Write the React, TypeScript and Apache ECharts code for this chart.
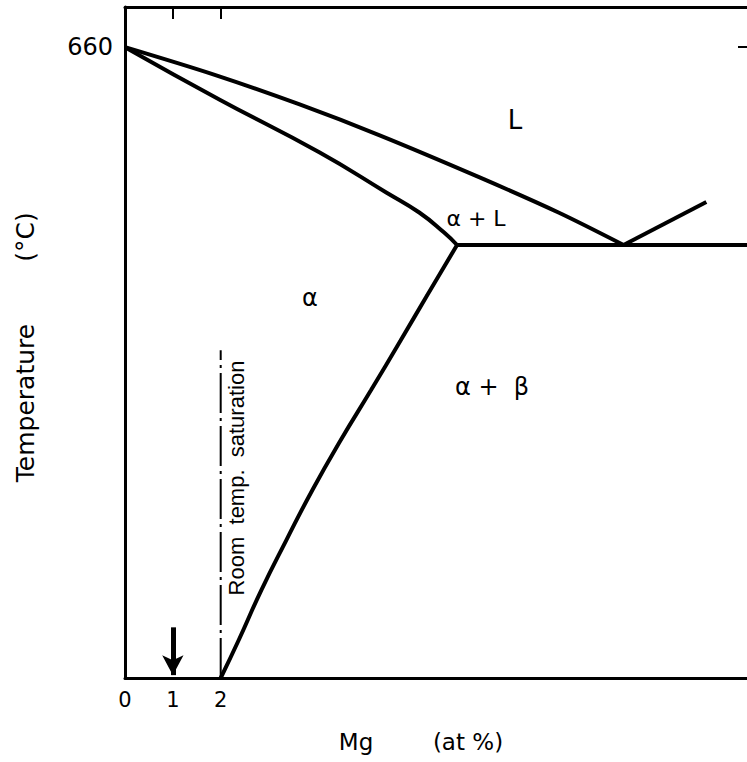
import React, { useEffect, useRef } from "react";
import * as echarts from "echarts";

// Composition (at % Mg) vs temperature (°C)
const liquidus: number[][] = [[0, 660], [1.875, 631], [3.65, 600], [5.31, 568], [7.4, 524], [9.06, 487], [10.42, 453]];
const solidus: number[][] = [[0, 660], [1.98, 605], [4.06, 550], [5.46, 508], [6.15, 487], [6.67, 466], [6.94, 453]];
const solvus: number[][] = [[2.0, 0], [2.38, 40], [2.85, 92], [3.37, 144], [3.92, 197], [4.51, 249], [5.14, 301], [5.76, 353], [6.31, 400], [6.94, 453]];
const eutectic: number[][] = [[6.94, 453], [13, 453]];
const liquidusMg: number[][] = [[10.42, 453], [12.15, 498]];
const saturation: number[][] = [[2, 0], [2, 343]];
const arrowFrom: number[] = [1, 53];
const arrowTo: number[] = [1, 3];
const xTicks = [0, 1, 2];
const topTicks = [1, 2];
const yTicks = [660];

const X_MAX = 13;
const T_MAX = 702;

export default function App() {
  const ref = useRef<HTMLDivElement>(null);
  useEffect(() => {
    if (!ref.current) return;
    const chart = echarts.init(ref.current, undefined, { renderer: "svg" });
    const black = "#000";
    const font = "DejaVu Sans";
    const curve = (data: number[][], smooth: number | boolean = 0.3) => ({
      type: "line",
      data,
      smooth,
      symbol: "none",
      lineStyle: { color: black, width: 4 },
      silent: true,
    });
    const frameLine = { show: true, onZero: false, lineStyle: { color: black, width: 3 } };
    chart.setOption({
      animation: false,
      backgroundColor: "#fff",
      grid: { left: 125, right: -2, top: 7, bottom: 84 },
      xAxis: [
        {
          type: "value",
          min: 0,
          max: X_MAX,
          interval: 1,
          position: "bottom",
          splitLine: { show: false },
          axisLine: frameLine,
          axisTick: { show: false },
          axisLabel: {
            customValues: xTicks,
            color: black,
            fontFamily: font,
            fontSize: 21,
            margin: 11,
          },
        },
        {
          type: "value",
          min: 0,
          max: X_MAX,
          interval: 1,
          position: "top",
          splitLine: { show: false },
          axisLine: frameLine,
          axisTick: { show: true, customValues: topTicks, inside: true, length: 12, lineStyle: { color: black, width: 2 } },
          axisLabel: { show: false },
        },
      ],
      yAxis: [
        {
          type: "value",
          min: 0,
          max: T_MAX,
          position: "left",
          splitLine: { show: false },
          axisLine: frameLine,
          axisTick: { show: false },
          axisLabel: {
            customValues: yTicks,
            color: black,
            fontFamily: font,
            fontSize: 24,
            margin: 12,
          },
        },
        {
          type: "value",
          min: 0,
          max: T_MAX,
          position: "right",
          splitLine: { show: false },
          axisLine: { show: false, onZero: false },
          axisTick: { show: true, customValues: yTicks, inside: true, length: 9, lineStyle: { color: black, width: 2 } },
          axisLabel: { show: false },
        },
      ],
      series: [
        curve(liquidus, 0.3),
        curve(solidus, 0.5),
        curve(solvus, 0.5),
        curve(eutectic, false),
        curve(liquidusMg, false),
        {
          type: "line",
          data: saturation,
          symbol: "none",
          silent: true,
          lineStyle: { color: black, width: 2, type: [40, 5, 3, 5] },
          markLine: {
            silent: true,
            symbol: ["none", "arrow"],
            symbolSize: [16, 20],
            label: { show: false },
            lineStyle: { color: black, width: 5, type: "solid" },
            data: [[{ coord: arrowFrom }, { coord: arrowTo }]],
          },
        },
      ],
      graphic: [
        { type: "text", x: 515, y: 120, style: { text: "L", font: `26px ${font}`, fill: black, align: "center", verticalAlign: "middle" } },
        { type: "text", x: 476, y: 218, style: { text: "α + L", font: `22px ${font}`, fill: black, align: "center", verticalAlign: "middle" } },
        { type: "text", x: 310, y: 298, style: { text: "α", font: `24px ${font}`, fill: black, align: "center", verticalAlign: "middle" } },
        { type: "text", x: 492, y: 387, style: { text: "α +  β", font: `24px ${font}`, fill: black, align: "center", verticalAlign: "middle" } },
        {
          type: "text",
          x: 236,
          y: 478,
          rotation: Math.PI / 2,
          style: { text: "Room  temp.  saturation", font: `22px "Liberation Sans"`, fill: black, align: "center", verticalAlign: "middle" },
        },
        { type: "text", x: 356, y: 742, style: { text: "Mg", font: `23px ${font}`, fill: black, align: "center", verticalAlign: "middle" } },
        { type: "text", x: 468, y: 742, style: { text: "(at %)", font: `23px ${font}`, fill: black, align: "center", verticalAlign: "middle" } },
        {
          type: "text",
          x: 25,
          y: 403,
          rotation: Math.PI / 2,
          style: { text: "Temperature", font: `25px ${font}`, fill: black, align: "center", verticalAlign: "middle" },
        },
        {
          type: "text",
          x: 25,
          y: 237,
          rotation: Math.PI / 2,
          style: { text: "(°C)", font: `25px ${font}`, fill: black, align: "center", verticalAlign: "middle" },
        },
      ],
    });
    return () => chart.dispose();
  }, []);
  return (
    <div style={{ position: "fixed", left: 0, top: 0, width: 747, height: 762, overflow: "hidden", background: "#fff" }}>
      <div ref={ref} style={{ width: 747, height: 762 }} />
    </div>
  );
}
